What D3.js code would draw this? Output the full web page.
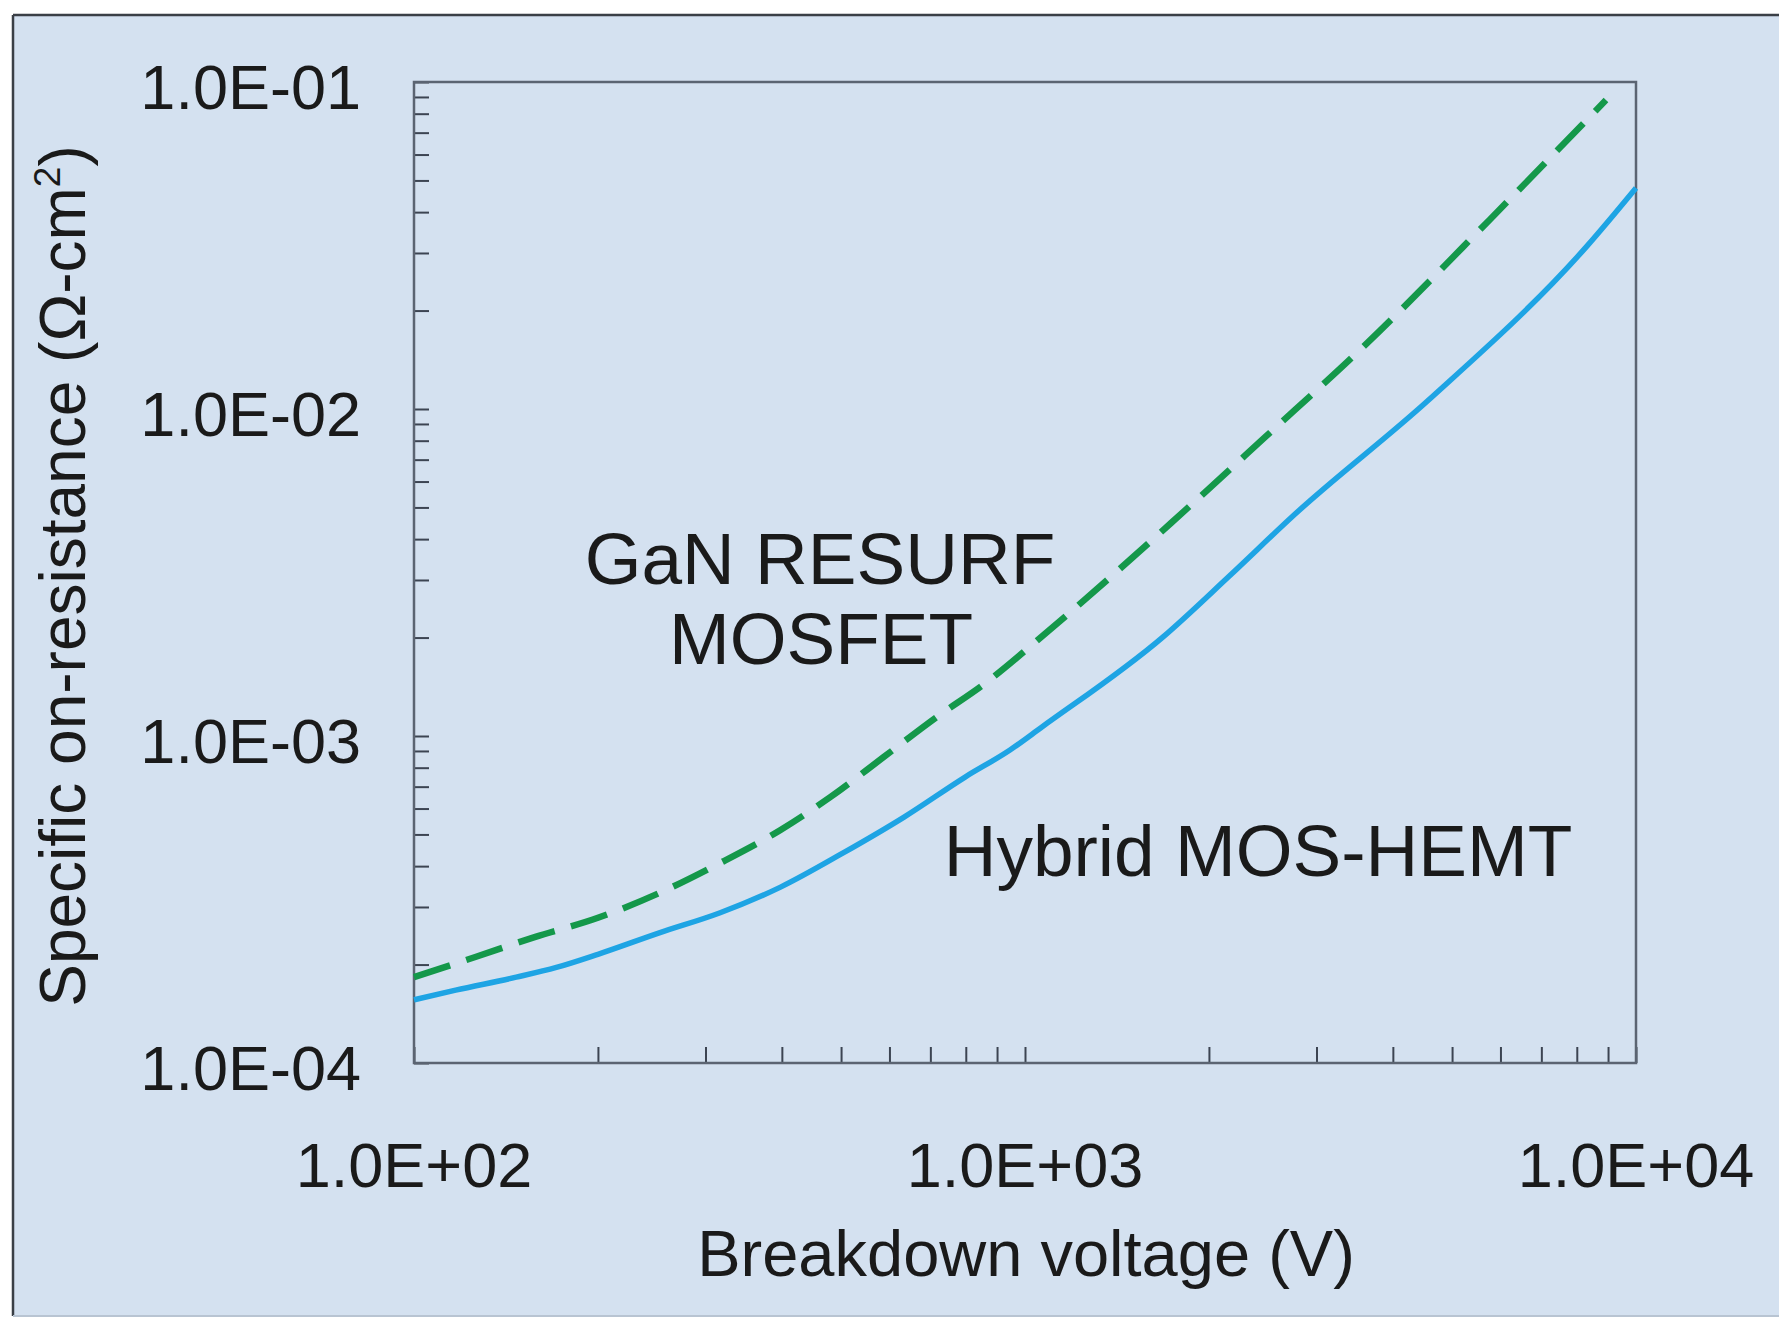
<!DOCTYPE html>
<html><head><meta charset="utf-8">
<script src="https://cdn.jsdelivr.net/npm/d3@7"></script>
<style>
html,body{margin:0;padding:0;background:#fff;}
svg{display:block;}
text{font-family:"Liberation Sans",Arial,sans-serif;fill:#1a1a1a;}
</style></head>
<body>
<svg id="c" width="1779" height="1322"></svg>
<script>
// ---- data ----
const xTickValues = [1e2, 1e3, 1e4];
const xTickLabels = ["1.0E+02", "1.0E+03", "1.0E+04"];
const yTickValues = [1e-4, 1e-3, 1e-2, 1e-1];
const yTickLabels = ["1.0E-04", "1.0E-03", "1.0E-02", "1.0E-01"];

const resurfVoltage = [100, 126, 158, 200, 252, 317, 398, 480, 586, 716, 861, 1087, 1734, 2471, 3630, 5768, 8930];
const resurfRon     = [1.83e-4, 2.11e-4, 2.43e-4, 2.78e-4, 3.31e-4, 4.09e-4, 5.16e-4, 6.5e-4, 8.6e-4, 1.14e-3, 1.45e-3, 2.08e-3, 4.48e-3, 8.2e-3, 1.59e-2, 3.8e-2, 8.81e-2];

const hybridVoltage = [100, 117, 147, 171, 200, 252, 317, 398, 504, 634, 798, 945, 1062, 1683, 2158, 2756, 4581, 8340, 10000];
const hybridRon     = [1.56e-4, 1.67e-4, 1.83e-4, 1.96e-4, 2.15e-4, 2.5e-4, 2.88e-4, 3.45e-4, 4.39e-4, 5.65e-4, 7.49e-4, 9.06e-4, 1.06e-3, 2.01e-3, 3.08e-3, 4.74e-3, 1.067e-2, 3.17e-2, 4.74e-2];

const xTitle = "Breakdown voltage (V)";
const yTitle = "Specific on-resistance (\u03A9-cm";
const labelResurf = ["GaN RESURF", "MOSFET"];
const labelHybrid = "Hybrid MOS-HEMT";

// ---- layout ----
const svg = d3.select("#c");
const W = 1779, H = 1322;
const L = 414, R = 1636, T = 82, B = 1063;

// background panel
svg.append("rect").attr("x",0).attr("y",0).attr("width",W).attr("height",H).attr("fill","#ffffff");
svg.append("rect").attr("x",13).attr("y",15).attr("width",W-13).attr("height",1301).attr("fill","#d4e1f0");
svg.append("line").attr("x1",13).attr("x2",W).attr("y1",15).attr("y2",15).attr("stroke","#3a3f46").attr("stroke-width",2.5);
svg.append("line").attr("x1",13).attr("x2",13).attr("y1",15).attr("y2",1316).attr("stroke","#3a3f46").attr("stroke-width",2.5);
svg.append("line").attr("x1",13).attr("x2",W).attr("y1",1316).attr("y2",1316).attr("stroke","#b8c4d2").attr("stroke-width",2);

const x = d3.scaleLog().domain([1e2, 1e4]).range([L, R]);
const y = d3.scaleLog().domain([1e-4, 1e-1]).range([B, T]);

// minor/major ticks (inward)
const g = svg.append("g");
const xt = x.ticks();
const yt = y.ticks();
g.append("g").attr("transform",`translate(0,${B})`)
  .call(d3.axisBottom(x).tickValues(xt).tickSize(-16).tickFormat(""))
  .call(s=>{s.select(".domain").remove(); s.selectAll("line").attr("stroke","#3c4452").attr("stroke-width",2);});
g.append("g").attr("transform",`translate(${L},0)`)
  .call(d3.axisLeft(y).tickValues(yt).tickSize(-15).tickFormat(""))
  .call(s=>{s.select(".domain").remove(); s.selectAll("line").attr("stroke","#3c4452").attr("stroke-width",2);});

// frame
svg.append("rect").attr("x",L).attr("y",T).attr("width",R-L).attr("height",B-T)
  .attr("fill","none").attr("stroke","#5b6472").attr("stroke-width",2.5);

// tick labels
svg.append("g").selectAll("text").data(xTickValues).join("text")
  .attr("x",d=>x(d)).attr("y",1187).attr("text-anchor","middle")
  .attr("font-size",63).text((d,i)=>xTickLabels[i]);
svg.append("g").selectAll("text").data(yTickValues).join("text")
  .attr("x",361).attr("y",d=>y(d)+27).attr("text-anchor","end")
  .attr("font-size",63).text((d,i)=>yTickLabels[i]);

// lines
const line = d3.line().x(d=>x(d[0])).y(d=>y(d[1])).curve(d3.curveMonotoneX);
svg.append("path").datum(hybridVoltage.map((v,i)=>[v,hybridRon[i]]))
  .attr("d",line).attr("fill","none").attr("stroke","#1ea4e4").attr("stroke-width",5.5)
  .attr("stroke-linejoin","round");
svg.append("path").datum(resurfVoltage.map((v,i)=>[v,resurfRon[i]]))
  .attr("d",line).attr("fill","none").attr("stroke","#14984a").attr("stroke-width",6.5)
  .attr("stroke-dasharray","38,17");

// annotations
svg.append("text").attr("x",820).attr("y",584).attr("text-anchor","middle").attr("font-size",73).text(labelResurf[0]);
svg.append("text").attr("x",821).attr("y",664).attr("text-anchor","middle").attr("font-size",73).text(labelResurf[1]);
svg.append("text").attr("x",1258).attr("y",876).attr("text-anchor","middle").attr("font-size",73).text(labelHybrid);

// axis titles
svg.append("text").attr("x",1026).attr("y",1276).attr("text-anchor","middle").attr("font-size",65).text(xTitle);
const yt2 = svg.append("text").attr("transform","translate(85,576) rotate(-90)").attr("text-anchor","middle").attr("font-size",64);
yt2.append("tspan").text(yTitle);
yt2.append("tspan").attr("dy",-25).attr("font-size",37).text("2");
yt2.append("tspan").attr("dy",25).text(")");
</script>
</body></html>
